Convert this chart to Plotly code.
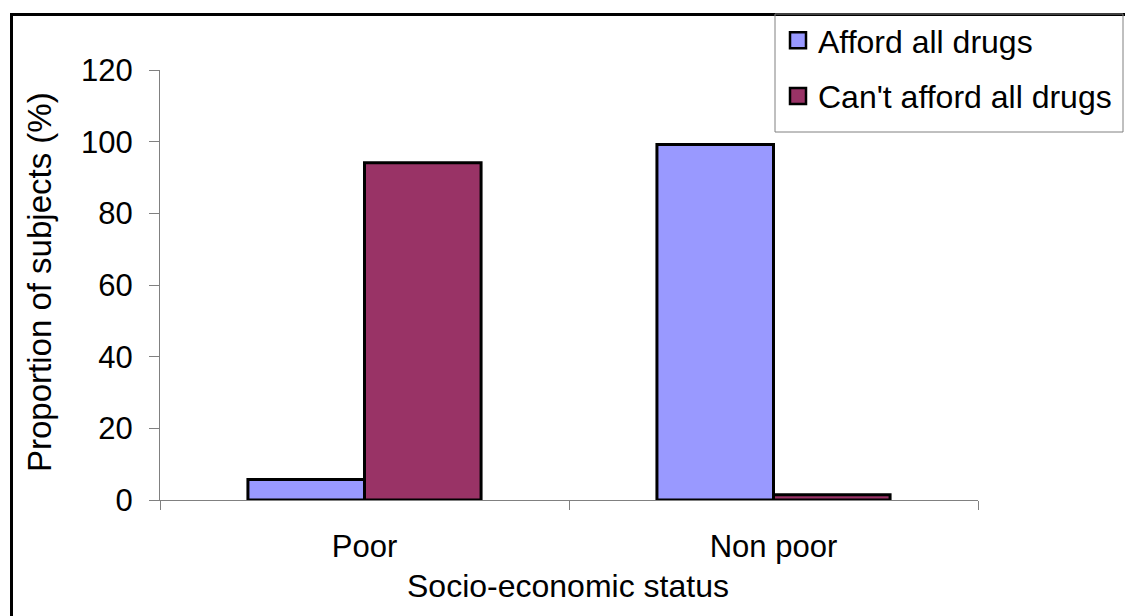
import plotly.graph_objects as go

# Data
categories = ["Poor", "Non poor"]
afford_all = [5.7, 99.2]
cannot_afford = [94.1, 1.5]
series_names = ["Afford all drugs", "Can't afford all drugs"]
y_ticks = [0, 20, 40, 60, 80, 100, 120]

# Canvas and plot-area geometry (pixels)
W, H = 1125, 616
L, R, T, B = 160, 978, 70, 500

FONT = "Liberation Sans, Arial, sans-serif"
BLUE = "#9999FF"
PLUM = "#993366"
AXIS_GREY = "#808080"


def px(x):
    """Pixel x -> paper coordinate."""
    return (x - L) / (R - L)


def py(y):
    """Pixel y -> paper coordinate."""
    return (B - y) / (B - T)


fig = go.Figure()
for vals, name, color in [(afford_all, series_names[0], BLUE),
                          (cannot_afford, series_names[1], PLUM)]:
    fig.add_trace(go.Bar(
        x=categories, y=vals, name=name, showlegend=False,
        marker=dict(color=color, line=dict(color="black", width=3)),
    ))

# Legend entries with larger square swatches
for i, (name, color) in enumerate([(series_names[0], BLUE), (series_names[1], PLUM)]):
    fig.add_trace(go.Scatter(
        x=[None], y=[None], mode="markers", name=name, legendgroup=f"g{i}",
        marker=dict(symbol="square", size=16, color=color,
                    line=dict(color="black", width=2.5)),
    ))

fig.update_layout(
    width=W, height=H,
    margin=dict(l=L, r=W - R, t=T, b=H - B, autoexpand=False),
    paper_bgcolor="white", plot_bgcolor="white",
    barmode="group", bargap=0.43, bargroupgap=0,
    font=dict(family=FONT, size=31, color="black"),
    showlegend=True,
    legend=dict(
        x=px(778), y=py(13), xanchor="left", yanchor="top",
        xref="paper", yref="paper",
        bgcolor="rgba(0,0,0,0)", borderwidth=0,
        font=dict(family=FONT, size=32, color="black"),
        tracegroupgap=11, traceorder="grouped",
    ),
    xaxis=dict(
        type="category", showgrid=False, zeroline=False,
        showline=True, linecolor=AXIS_GREY, linewidth=1,
        ticks="outside", tickson="boundaries", ticklen=9,
        tickcolor=AXIS_GREY, tickwidth=1,
        tickfont=dict(family=FONT, size=31, color="black"),
        ticklabelstandoff=19,
    ),
    yaxis=dict(
        range=[0, 120], tickvals=y_ticks, showgrid=False, zeroline=False,
        showline=True, linecolor=AXIS_GREY, linewidth=1,
        ticks="outside", ticklen=10, tickcolor=AXIS_GREY, tickwidth=1,
        tickfont=dict(family=FONT, size=31, color="black"),
        ticklabelstandoff=10,
    ),
)

# Axis titles
fig.add_annotation(
    text="Socio-economic status", xref="paper", yref="paper",
    x=px(568), y=py(586), xanchor="center", yanchor="middle",
    showarrow=False, font=dict(family=FONT, size=32, color="black"),
)
fig.add_annotation(
    text="Proportion of subjects (%)", xref="paper", yref="paper",
    x=px(39), y=py(282), xanchor="center", yanchor="middle",
    textangle=-90, showarrow=False,
    font=dict(family=FONT, size=33, color="black"),
)

# Chart frame (left and top edges) and legend box
fig.add_shape(
    type="path", xref="paper", yref="paper",
    path=f"M {px(11.5)} {py(H + 10)} L {px(11.5)} {py(14.5)} L {px(W + 10)} {py(14.5)}",
    line=dict(color="black", width=3),
)
fig.add_shape(
    type="rect", xref="paper", yref="paper",
    x0=px(775), x1=px(1123), y0=py(132), y1=py(14),
    line=dict(color=AXIS_GREY, width=1), fillcolor="rgba(0,0,0,0)",
)

fig.write_html("out.html")
